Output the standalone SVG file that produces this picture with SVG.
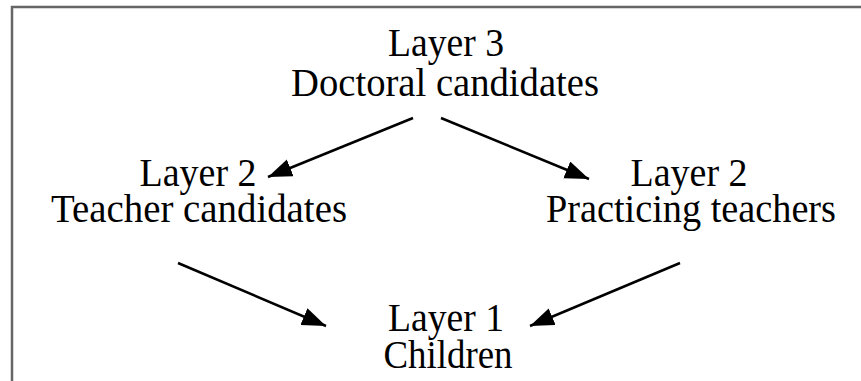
<svg xmlns="http://www.w3.org/2000/svg" width="861" height="381" viewBox="0 0 861 381">
<defs>
<style>
.t{font-family:"Liberation Serif","Times New Roman",serif;font-size:41px;fill:#000;text-anchor:middle}
.c{stroke:#000;stroke-width:2.5;fill:none}
</style>
<marker id="ah" markerUnits="userSpaceOnUse" markerWidth="26" markerHeight="20" refX="24" refY="9" orient="auto">
<path d="M0,0 L24,9 L0,18 Z" fill="#000"/>
</marker>
</defs>
<rect width="861" height="381" fill="#fff"/>
<path d="M12,381 L12,7 L861,7" stroke="#666" stroke-width="2.5" fill="none"/>
<g id="layer3">
<text class="t" x="446" y="56" textLength="116" lengthAdjust="spacingAndGlyphs">Layer 3</text>
<text class="t" x="445" y="96" textLength="308" lengthAdjust="spacingAndGlyphs">Doctoral candidates</text>
</g>
<g id="layer2-teacher-candidates">
<text class="t" x="198" y="186" textLength="117" lengthAdjust="spacingAndGlyphs">Layer 2</text>
<text class="t" x="199" y="222" textLength="296" lengthAdjust="spacingAndGlyphs">Teacher candidates</text>
</g>
<g id="layer2-practicing-teachers">
<text class="t" x="689" y="186" textLength="117" lengthAdjust="spacingAndGlyphs">Layer 2</text>
<text class="t" x="691" y="222" textLength="290" lengthAdjust="spacingAndGlyphs">Practicing teachers</text>
</g>
<g id="layer1">
<text class="t" x="446" y="331" textLength="116" lengthAdjust="spacingAndGlyphs">Layer 1</text>
<text class="t" x="448" y="368" textLength="129" lengthAdjust="spacingAndGlyphs">Children</text>
</g>
<g id="connectors">
<line class="c" x1="413" y1="118" x2="268" y2="177" marker-end="url(#ah)"/>
<line class="c" x1="441" y1="118" x2="589" y2="179" marker-end="url(#ah)"/>
<line class="c" x1="178" y1="263" x2="326" y2="326" marker-end="url(#ah)"/>
<line class="c" x1="680" y1="263" x2="530" y2="326" marker-end="url(#ah)"/>
</g>
</svg>
